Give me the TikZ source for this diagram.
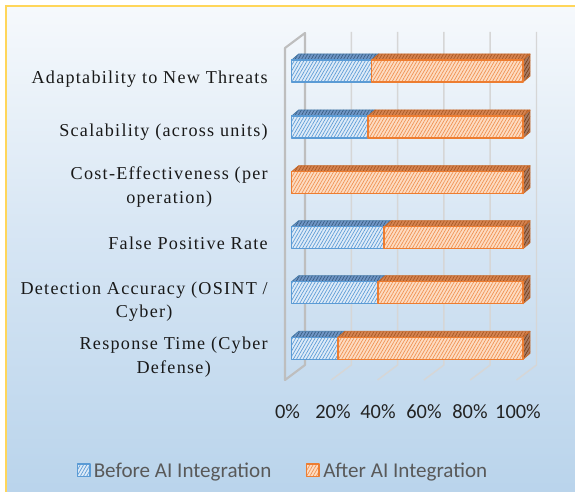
\documentclass[tikz,border=0pt]{standalone}
\usepackage{fontspec}
\setmainfont{Liberation Serif}
\newfontfamily\labfont[LetterSpace=7]{Liberation Serif}
\newfontfamily\calfont{Carlito}
\usetikzlibrary{patterns.meta}
\definecolor{bgtop}{RGB}{246,249,252}
\definecolor{bgmid}{RGB}{212,228,243}
\definecolor{bgbot}{RGB}{184,211,235}
\definecolor{framec}{RGB}{255,214,90}
\definecolor{gridc}{RGB}{214,214,214}
\definecolor{wallc}{RGB}{190,190,190}
\definecolor{blueE}{RGB}{91,155,213}
\definecolor{blueF}{RGB}{222,235,248}
\definecolor{blueT}{RGB}{112,150,198}
\definecolor{orE}{RGB}{237,125,49}
\definecolor{orF}{RGB}{253,220,194}
\definecolor{orT}{RGB}{214,132,82}
\definecolor{orS}{RGB}{168,122,98}
\definecolor{labc}{RGB}{25,25,25}
\definecolor{axc}{RGB}{35,35,35}
\definecolor{legc}{RGB}{89,89,89}
\tikzset{
  hatch/.style={pattern={Lines[angle=60,distance=2.1pt,line width=0.5pt]}},
  bluefront/.style={draw=blueE,line width=1.1pt,line join=round,preaction={fill=blueF},hatch,pattern color=blueE},
  bluetop/.style={draw=blueE!80!black,line width=0.6pt,line join=round,preaction={fill=blueT},hatch,pattern color=blueE!60!black},
  orfront/.style={draw=orE,line width=1.1pt,line join=round,preaction={fill=orF},hatch,pattern color=orE!85},
  ortop/.style={draw=orE!85!black,line width=0.6pt,line join=round,preaction={fill=orT},hatch,pattern color=orE!70!black},
  orside/.style={draw=orE!85!black,line width=0.6pt,line join=round,preaction={fill=orS},hatch,pattern color=orE!50!black},
  catlab/.style={inner sep=0pt,text=labc,font=\labfont\fontsize{13.6}{17}\selectfont},
  axlab/.style={inner sep=0pt,anchor=base,text=axc,font=\calfont\fontsize{15.3}{18}\selectfont},
  leglab/.style={inner sep=0pt,anchor=base west,text=legc,font=\calfont\fontsize{15.8}{19}\selectfont},
  gridline/.style={draw=gridc,line width=1.1pt},
  wall/.style={draw=wallc,line width=1.6pt,line join=round}
}
\begin{document}
\begin{tikzpicture}[x=0.75pt,y=-0.75pt]
\useasboundingbox (0,0) rectangle (575,492);
\fill[white] (0,0) rectangle (575,492);
% background panel
\shade[top color=bgtop,bottom color=bgbot,middle color=bgmid] (6,6) rectangle (590,505);
\draw[framec,line width=1.6pt] (6,505) -- (6,6) -- (590,6);
% back wall gridlines and floor lines
\foreach \k in {1,...,5}{
  \pgfmathsetmacro\gx{305+46.3*\k}
  \draw[gridline] (\gx,32) -- (\gx,365) -- ({\gx-20},380);
}
% left wall
\draw[wall] (285,380) -- (285,48) -- (305,33) -- (305,365) -- cycle;
% bars
\foreach \yt/\f in {60/0.346,116/0.33,171.7/0,226.7/0.40,281.7/0.374,337.3/0.20}{
  \pgfmathsetmacro\xs{291.7+\f*231.3}
  \ifdim\f pt>0pt
    \path[bluetop] (291.7,\yt) -- (298.7,{\yt-6}) -- ({\xs+7},{\yt-6}) -- (\xs,\yt) -- cycle;
  \fi
  \path[ortop] (\xs,\yt) -- ({\xs+7},{\yt-6}) -- (530,{\yt-6}) -- (523,\yt) -- cycle;
  \path[orside] (523,\yt) -- (530,{\yt-6}) -- (530,{\yt+16}) -- (523,{\yt+22}) -- cycle;
  \ifdim\f pt>0pt
    \path[bluefront] (291.7,\yt) rectangle (\xs,{\yt+22});
  \fi
  \path[orfront] (\xs,\yt) rectangle (523,{\yt+22});
}
% category labels
\node[catlab,anchor=base east] (c1) at (268,83.3) {Adaptability to New Threats};
\node[catlab,anchor=base east] (c2) at (268,137) {Scalability (across units)};
\node[catlab,anchor=base east] (c3a) at (268,179.5) {Cost-Effectiveness (per};
\coordinate (c3y) at (0,203);
\node[catlab,anchor=base] (c3b) at (c3a.base |- c3y) {operation)};
\node[catlab,anchor=base east] (c4) at (268,249.3) {False Positive Rate};
\node[catlab,anchor=base east] (c5a) at (268,294) {Detection Accuracy (OSINT /};
\coordinate (c5y) at (0,317.3);
\node[catlab,anchor=base] (c5b) at (c5a.base |- c5y) {Cyber)};
\node[catlab,anchor=base east] (c6a) at (268,349.3) {Response Time (Cyber};
\coordinate (c6y) at (0,373.3);
\node[catlab,anchor=base] (c6b) at (c6a.base |- c6y) {Defense)};
% axis labels
\node[axlab] (a0) at (287.5,418) {0\%};
\node[axlab] (a20) at (333,418) {20\%};
\node[axlab] (a40) at (378,418) {40\%};
\node[axlab] (a60) at (424,418) {60\%};
\node[axlab] (a80) at (470,418) {80\%};
\node[axlab] (a100) at (518,418) {100\%};
% legend
\path[bluefront,line width=0.8pt] (77.5,464) rectangle (90,476.5);
\node[leglab] (l1) at (93.5,477) {Before AI Integration};
\path[orfront,line width=0.8pt] (306.5,464) rectangle (319,476.5);
\node[leglab] (l2) at (323,477) {After AI Integration};
\end{tikzpicture}
\end{document}
